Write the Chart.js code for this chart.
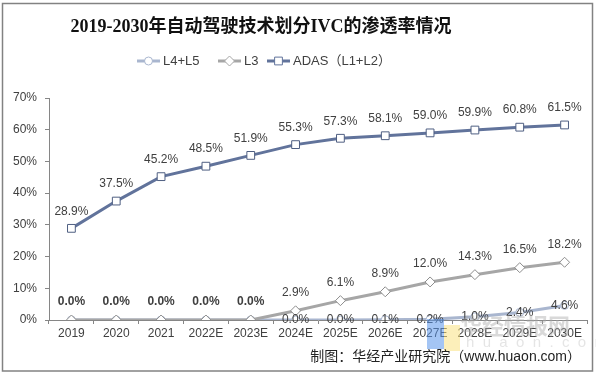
<!DOCTYPE html>
<html>
<head>
<meta charset="utf-8">
<script src="https://cdn.jsdelivr.net/npm/chart.js@4/dist/chart.umd.min.js"></script>
<style>
  html, body { margin: 0; padding: 0; background: #fff; }
  #wrap { width: 596px; height: 376px; }
</style>
</head>
<body>
<div id="wrap"><canvas id="myChart" width="596" height="376"></canvas></div>
<script>
const years = ['2019', '2020', '2021', '2022E', '2023E', '2024E', '2025E', '2026E', '2027E', '2028E', '2029E', '2030E'];
const l45Values = [0, 0, 0, 0, 0, 0, 0, 0.1, 0.2, 1.0, 2.4, 4.6];
const l3Values = [0, 0, 0, 0, 0, 2.9, 6.1, 8.9, 12.0, 14.3, 16.5, 18.2];
const adasValues = [28.9, 37.5, 45.2, 48.5, 51.9, 55.3, 57.3, 58.1, 59.0, 59.9, 60.8, 61.5];
const yTicks = [0, 10, 20, 30, 40, 50, 60, 70];

const seriesNames = ['L4+L5', 'L3', 'ADAS（L1+L2）'];
const colL45 = '#a9b6cf';
const colL3 = '#a6a6a6';
const colAdas = '#61739b';
const textCol = '#404040';
const sansFont = "'Liberation Sans', Arial, 'Noto Sans CJK SC', sans-serif";

// draws a marker like the chart.js point styles
const drawMarker = (ctx, style, x, y, r, color) => {
    ctx.save();
    ctx.fillStyle = '#fff';
    ctx.strokeStyle = color;
    ctx.lineWidth = 1;
    ctx.beginPath();
    if (style === 'circle') {
        ctx.arc(x, y, r, 0, Math.PI * 2);
    } else if (style === 'rectRot') {
        ctx.moveTo(x, y - r);
        ctx.lineTo(x + r, y);
        ctx.lineTo(x, y + r);
        ctx.lineTo(x - r, y);
        ctx.closePath();
    } else {
        const s = r * Math.SQRT1_2;
        ctx.rect(x - s, y - s, s * 2, s * 2);
    }
    ctx.fill();
    ctx.stroke();
    ctx.restore();
}

const decorPlugin = {
    id: 'decor',
    afterDraw(chart) {
        const ctx = chart.ctx;
        ctx.save();

        // frame
        ctx.strokeStyle = '#828282';
        ctx.lineWidth = 1.5;
        ctx.strokeRect(2.5, 3.5, 590, 367.5);

        // title
        ctx.fillStyle = '#111';
        ctx.font = "bold 18px 'Liberation Serif', 'Noto Sans CJK SC', serif";
        ctx.textAlign = 'center';
        ctx.textBaseline = 'middle';
        ctx.fillText('2019-2030年自动驾驶技术划分IVC的渗透率情况', 261, 27);

        // legend
        const legendItems = [
            { x: 137, color: colL45, style: 'circle', r: 4 },
            { x: 218, color: colL3, style: 'rectRot', r: 5 },
            { x: 267, color: colAdas, style: 'rect', r: 5.5 }
        ];
        ctx.font = '13px ' + sansFont;
        ctx.textAlign = 'left';
        legendItems.forEach((item, i) => {
            ctx.strokeStyle = item.color;
            ctx.lineWidth = 3;
            ctx.beginPath();
            ctx.moveTo(item.x, 61);
            ctx.lineTo(item.x + 23, 61);
            ctx.stroke();
            drawMarker(ctx, item.style, item.x + 11.5, 61, item.r, item.color);
            ctx.fillStyle = textCol;
            ctx.fillText(seriesNames[i], item.x + 26, 61);
        });

        // watermark
        ctx.fillStyle = 'rgba(90, 150, 235, 0.55)';
        ctx.fillRect(427, 319, 17, 30);
        ctx.fillStyle = 'rgba(250, 225, 130, 0.55)';
        ctx.fillRect(444, 325, 16, 26);
        ctx.fillStyle = 'rgba(170, 170, 170, 0.45)';
        ctx.font = "bold 22px 'Noto Sans CJK SC', sans-serif";
        ctx.fillText('华经情报网', 460, 326);
        ctx.fillStyle = 'rgba(190, 190, 190, 0.4)';
        ctx.font = '15px ' + sansFont;
        ctx.fillText('h  u  a  o  n  .  c  o  m', 466, 343);

        // source
        ctx.fillStyle = '#222';
        ctx.font = '14px ' + sansFont;
        ctx.textAlign = 'right';
        ctx.fillText('制图：华经产业研究院（www.huaon.com）', 581, 357);
        ctx.restore();
    }
};

const labelPlugin = {
    id: 'valueLabels',
    afterDatasetsDraw(chart) {
        const ctx = chart.ctx;
        ctx.save();
        ctx.fillStyle = textCol;
        ctx.textAlign = 'center';
        ctx.textBaseline = 'middle';

        const l45Meta = chart.getDatasetMeta(0);
        const l3Meta = chart.getDatasetMeta(1);
        const adasMeta = chart.getDatasetMeta(2);

        adasMeta.data.forEach((pt, i) => {
            ctx.font = '12px ' + sansFont;
            ctx.fillText(adasValues[i].toFixed(1) + '%', pt.x, pt.y - 17);
        });
        l3Meta.data.forEach((pt, i) => {
            ctx.font = (i < 5 ? 'bold ' : '') + '12px ' + sansFont;
            ctx.fillText(l3Values[i].toFixed(1) + '%', pt.x, pt.y - 18);
        });
        l45Meta.data.forEach((pt, i) => {
            if (i < 5) return;
            ctx.font = '12px ' + sansFont;
            ctx.fillText(l45Values[i].toFixed(1) + '%', pt.x, pt.y);
        });
        ctx.restore();
    }
};

const data = {
    labels: years,
    datasets: [{
        label: seriesNames[0],
        data: l45Values,
        borderColor: colL45,
        borderWidth: 3,
        pointStyle: 'circle',
        pointRadius: 4,
        pointBorderWidth: 1,
        pointBackgroundColor: '#fff',
        pointBorderColor: colL45,
        order: 3
    }, {
        label: seriesNames[1],
        data: l3Values,
        borderColor: colL3,
        borderWidth: 3,
        pointStyle: 'rectRot',
        pointRadius: 5,
        pointBorderWidth: 1,
        pointBackgroundColor: '#fff',
        pointBorderColor: '#8c8c8c',
        order: 2
    }, {
        label: seriesNames[2],
        data: adasValues,
        borderColor: colAdas,
        borderWidth: 3,
        pointStyle: 'rect',
        pointRadius: 5.5,
        pointBorderWidth: 1,
        pointBackgroundColor: '#fff',
        pointBorderColor: '#4f5f82',
        order: 1
    }]
};

const config = {
    type: 'line',
    data: data,
    options: {
        responsive: false,
        animation: false,
        layout: { padding: { top: 98, right: 9, bottom: 0, left: 0 } },
        plugins: {
            legend: { display: false },
            title: { display: false },
            tooltip: { enabled: false }
        },
        scales: {
            x: {
                offset: true,
                grid: { display: true, offset: true, drawOnChartArea: false, drawTicks: true, tickLength: 4, color: '#868686' },
                border: { display: true, color: '#868686', width: 1 },
                ticks: { color: textCol, font: { size: 12, family: sansFont }, padding: 2, maxRotation: 0, autoSkip: false },
                afterFit: (scale) => { scale.height = 56; }
            },
            y: {
                min: yTicks[0],
                max: yTicks[yTicks.length - 1],
                afterBuildTicks: (scale) => { scale.ticks = yTicks.map(v => ({ value: v })); },
                grid: { display: true, drawOnChartArea: false, drawTicks: true, tickLength: 4, color: '#868686' },
                border: { display: true, color: '#868686', width: 1 },
                ticks: {
                    color: textCol,
                    font: { size: 12, family: sansFont },
                    padding: 8,
                    callback: (v) => v + '%'
                },
                afterFit: (scale) => { scale.width = 49; }
            }
        }
    },
    plugins: [labelPlugin, decorPlugin]
};

const myChart = new Chart(document.getElementById('myChart'), config);
</script>
</body>
</html>
